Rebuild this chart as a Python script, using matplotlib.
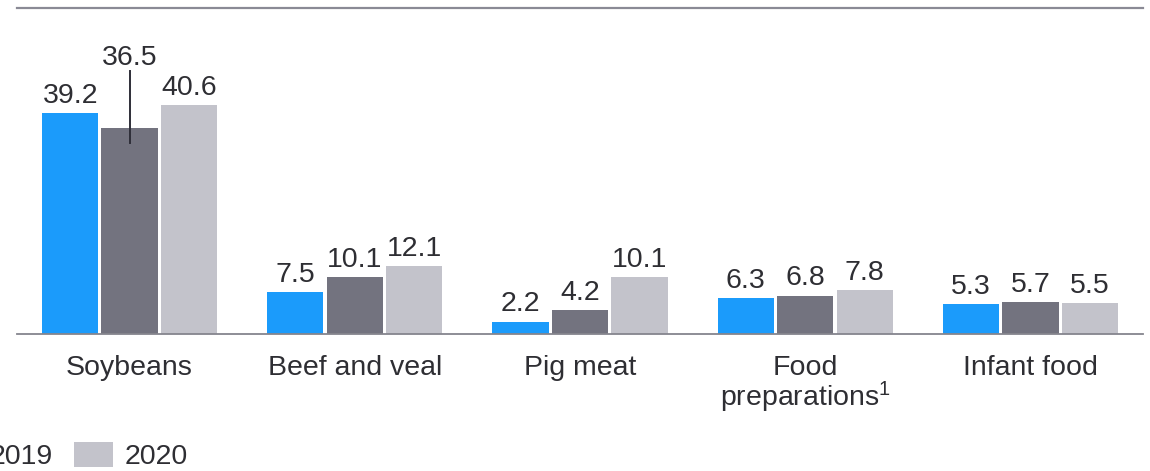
import matplotlib
matplotlib.use("Agg")
import matplotlib.pyplot as plt
from matplotlib.patches import Patch
import numpy as np

plt.rcParams["font.family"] = ["Liberation Sans", "DejaVu Sans"]
plt.rcParams["mathtext.fontset"] = "custom"
plt.rcParams["mathtext.rm"] = "Liberation Sans"
plt.rcParams["mathtext.it"] = "Liberation Sans"

categories = ["Soybeans", "Beef and veal", "Pig meat", "Food\npreparations$^{1}$", "Infant food"]
years = ["2018", "2019", "2020"]
values_2018 = [39.2, 7.5, 2.2, 6.3, 5.3]
values_2019 = [36.5, 10.1, 4.2, 6.8, 5.7]
values_2020 = [40.6, 12.1, 10.1, 7.8, 5.5]
series = [values_2018, values_2019, values_2020]
colors = ["#1b9bfb", "#73737f", "#c3c3cb"]
text_color = "#2e2e33"

W, H = 1150, 471
fig = plt.figure(figsize=(W / 100, H / 100), dpi=100)
ax = fig.add_axes([17 / W, (H - 334) / H, 1126 / W, (334 - 8) / H])

x = np.arange(len(categories))
pitch = 0.264
bar_w = 0.25
fs = 20.5

for i, (vals, col) in enumerate(zip(series, colors)):
    xs = x + (i - 1) * pitch
    ax.bar(xs, vals, width=bar_w, color=col, edgecolor="none", zorder=2)
    for xi, v in zip(xs, vals):
        if v == 36.5:
            # raised label with a leader line into the bar
            ax.annotate(f"{v}", xy=(xi, v), xytext=(0, 41), textcoords="offset points",
                        ha="center", va="bottom", fontsize=fs, color=text_color)
            ax.plot([xi, xi], [v - 2.7, v + 10.2], color="#2e2e38", lw=1.4, zorder=3)
        else:
            ax.annotate(f"{v}", xy=(xi, v), xytext=(0, 3), textcoords="offset points",
                        ha="center", va="bottom", fontsize=fs, color=text_color)

ax.set_xlim(-0.5, len(categories) - 0.5)
ax.set_ylim(0, 57.8)
ax.set_yticks([])
ax.set_xticks(x)
ax.set_xticklabels(categories, fontsize=fs, color=text_color, va="top", linespacing=0.95)
ax.tick_params(axis="x", length=0, pad=15)
for s in ["left", "right"]:
    ax.spines[s].set_visible(False)
ax.spines["bottom"].set_color("#85858d")
ax.spines["bottom"].set_linewidth(1.3)
ax.spines["top"].set_color("#8a8a95")
ax.spines["top"].set_linewidth(1.6)

handles = [Patch(facecolor=c, edgecolor="none") for c in colors]
fig.legend(handles, years, loc="center right", bbox_to_anchor=(188 / W, 1 - 456 / H),
           ncol=3, frameon=False, fontsize=fs, handlelength=1.35, handleheight=1.0,
           handletextpad=0.42, columnspacing=0.75, borderpad=0, borderaxespad=0,
           labelcolor=text_color)

fig.savefig("out.png", dpi=100)
